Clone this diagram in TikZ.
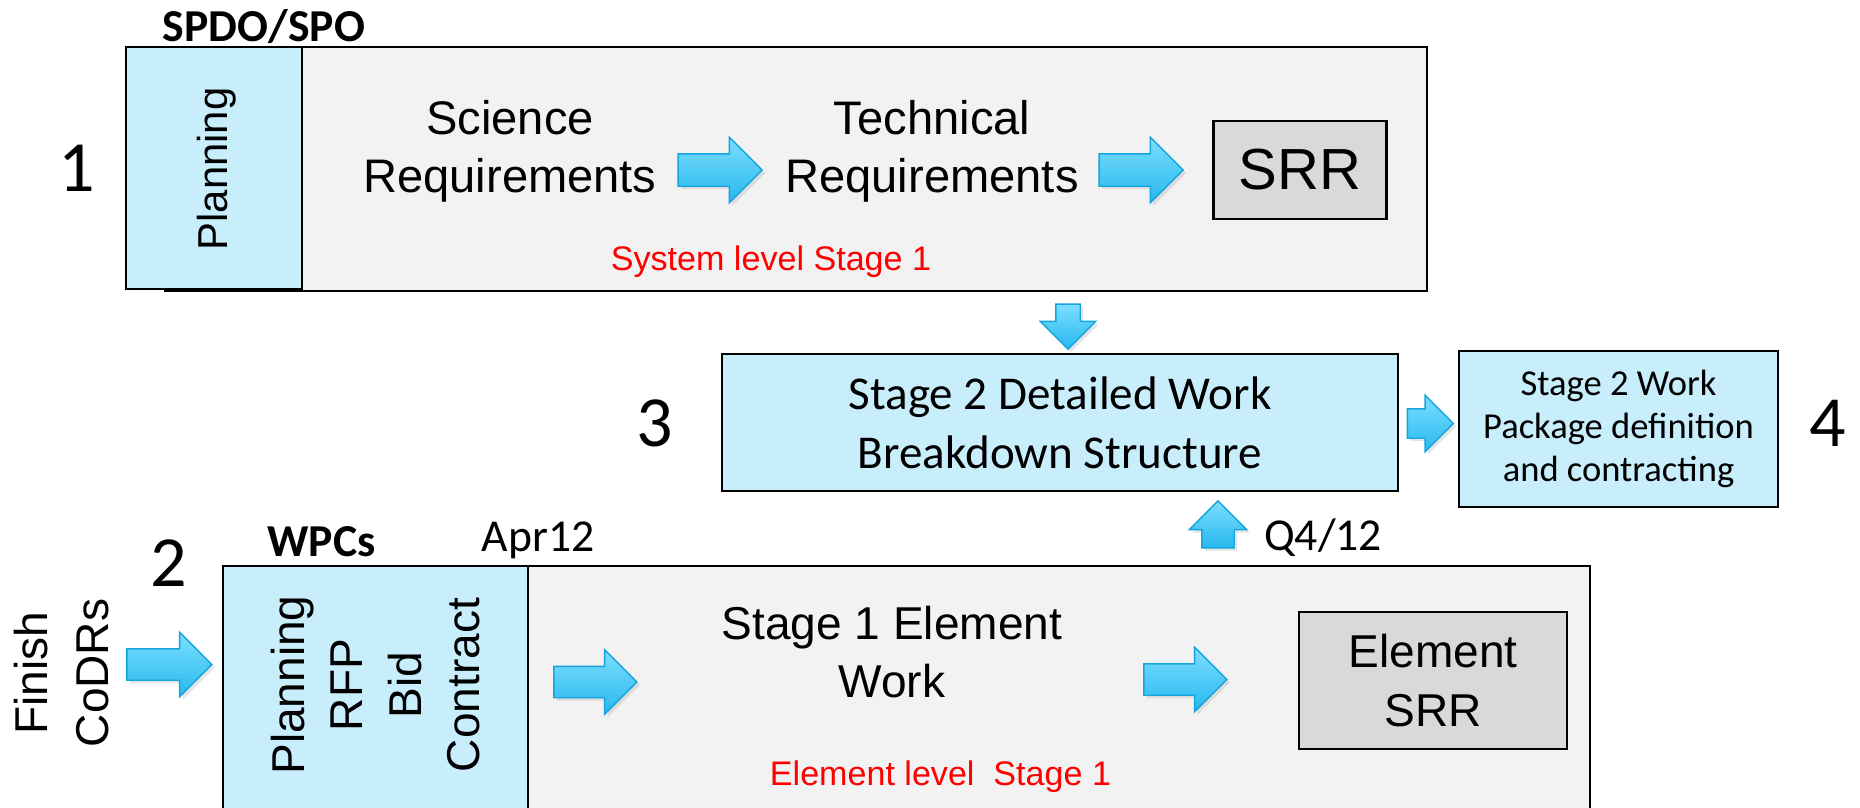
\documentclass[tikz,border=0pt]{standalone}
\usepackage{fontspec}
\setmainfont{Liberation Sans}
\newfontfamily\slidefont{Carlito}
\usetikzlibrary{shapes.arrows,shadows}

\definecolor{boxblue}{RGB}{200,238,252}
\definecolor{boxgray}{RGB}{242,242,242}
\definecolor{srrgray}{RGB}{217,217,217}
\definecolor{arrowtop}{RGB}{125,222,255}
\definecolor{arrowbot}{RGB}{38,184,238}
\definecolor{arrowedge}{RGB}{22,164,222}

\tikzset{
	stagebox/.style={draw, line width=0.6pt, fill=boxgray, inner sep=0pt},
	bluebox/.style={draw, line width=0.6pt, fill=boxblue, inner sep=0pt, align=center},
	srrbox/.style={draw, line width=0.7pt, fill=srrgray, inner sep=0pt, align=center},
	bigtext/.style={align=center, inner sep=0pt, font=\fontsize{13.4}{16.4}\selectfont},
	redtext/.style={inner sep=0pt, text=red, font=\fontsize{9.7}{11}\selectfont},
	numlabel/.style={inner sep=0pt, font=\slidefont\fontsize{20.5}{24}\selectfont},
	headlabel/.style={inner sep=0pt, font=\slidefont\bfseries\fontsize{13}{15}\selectfont},
	datelabel/.style={inner sep=0pt, font=\slidefont\fontsize{13}{15}\selectfont},
	% shaft = 2 * inner ysep, head = shaft + 2 * head extend
	blockarrow/.style={single arrow, draw=arrowedge, line width=0.4pt,
		top color=arrowtop, bottom color=arrowbot,
		inner xsep=0pt, inner ysep=0.155cm, single arrow head extend=0.165cm,
		drop shadow={shadow xshift=0.03cm, shadow yshift=-0.03cm, opacity=0.2}},
}

\begin{document}
\begin{tikzpicture}
	\useasboundingbox (0,0) rectangle (18.6,8.07);
	% system level, stage 1
	\node[stagebox, anchor=south west, minimum width=12.615cm, minimum height=2.44cm] (sys) at (1.64,5.15) {};
	\node[bluebox, anchor=south west, minimum width=1.755cm, minimum height=2.42cm] (plan) at (1.25,5.17) {};
	\node[bigtext, rotate=90, font=\fontsize{11.9}{14}\selectfont] (plantxt) at (2.17,6.38) {Planning};
	\node[headlabel] (spdo) at (2.64,7.80) {SPDO/SPO};
	\node[numlabel] (n1) at (0.77,6.39) {1};
	\node[bigtext] (sci) at (5.10,6.56) {Science\\Requirements};
	\node[bigtext] (tech) at (9.32,6.56) {Technical\\Requirements};
	\node[srrbox, minimum width=1.73cm, minimum height=0.98cm, font=\fontsize{16.5}{19}\selectfont] (srr) at (13.0,6.37) {SRR};
	\node[redtext] (syslvl) at (7.71,5.45) {System level Stage 1};
	\node[blockarrow, minimum height=0.84cm] (a1) at (7.12,6.37) {};
	\node[blockarrow, minimum height=0.84cm] (a2) at (11.33,6.37) {};
%
	% stage 2
	\node[blockarrow, minimum height=0.45cm, inner ysep=0.115cm, single arrow head extend=0.155cm, rotate=-90] (a3) at (10.68,4.865) {};
	\node[bluebox, minimum width=6.76cm, minimum height=1.37cm, font=\slidefont\fontsize{13.4}{16.8}\selectfont] (wbs) at (10.6,3.845) {Stage 2 Detailed Work\\Breakdown Structure};
	\node[numlabel] (n3) at (6.55,3.84) {3};
	\node[blockarrow, minimum height=0.46cm, inner ysep=0.14cm, single arrow head extend=0.135cm] (a4) at (14.23,3.835) {};
	\node[bluebox, minimum width=3.19cm, minimum height=1.56cm, font=\slidefont\fontsize{10.4}{12.2}\selectfont] (wp) at (16.185,3.78) {Stage 2 Work\\Package definition\\and contracting};
	\node[numlabel] (n4) at (18.28,3.84) {4};
	\node[blockarrow, minimum height=0.47cm, inner ysep=0.155cm, single arrow head extend=0.125cm, rotate=90] (a5) at (12.18,2.745) {};
	\node[datelabel] (q4) at (13.23,2.69) {Q4/12};
%
	% element level, stage 1
	\node[stagebox, anchor=north west, minimum width=11.89cm, minimum height=2.47cm] (elem) at (4.0,2.42) {};
	\node[bluebox, anchor=north west, minimum width=3.05cm, minimum height=2.47cm] (wpc) at (2.22,2.42) {};
	\node[bigtext, rotate=90, font=\fontsize{13.1}{16.6}\selectfont] (wpcsteps) at (3.755,1.22) {Planning\\RFP\\Bid\\Contract};
	\node[bigtext, rotate=90, font=\fontsize{13.1}{17.1}\selectfont] (finish) at (0.615,1.34) {Finish\\CoDRs};
	\node[numlabel] (n2) at (1.69,2.44) {2};
	\node[headlabel] (wpcs) at (3.215,2.65) {WPCs};
	\node[datelabel] (apr) at (5.38,2.67) {Apr12};
	\node[bigtext, font=\fontsize{13.1}{16.5}\selectfont] (elemwork) at (8.92,1.55) {Stage 1 Element\\Work};
	\node[srrbox, minimum width=2.68cm, minimum height=1.37cm, font=\fontsize{13.1}{16.8}\selectfont] (esrr) at (14.33,1.265) {Element\\SRR};
	\node[redtext] (elemlvl) at (9.405,0.30) {Element level\ \ Stage 1};
	\node[blockarrow, minimum height=0.85cm, inner ysep=0.15cm] (a6) at (1.615,1.425) {};
	\node[blockarrow, minimum height=0.83cm, inner ysep=0.15cm] (a7) at (5.875,1.25) {};
	\node[blockarrow, minimum height=0.83cm, inner ysep=0.15cm] (a8) at (11.775,1.275) {};
\end{tikzpicture}
\end{document}
